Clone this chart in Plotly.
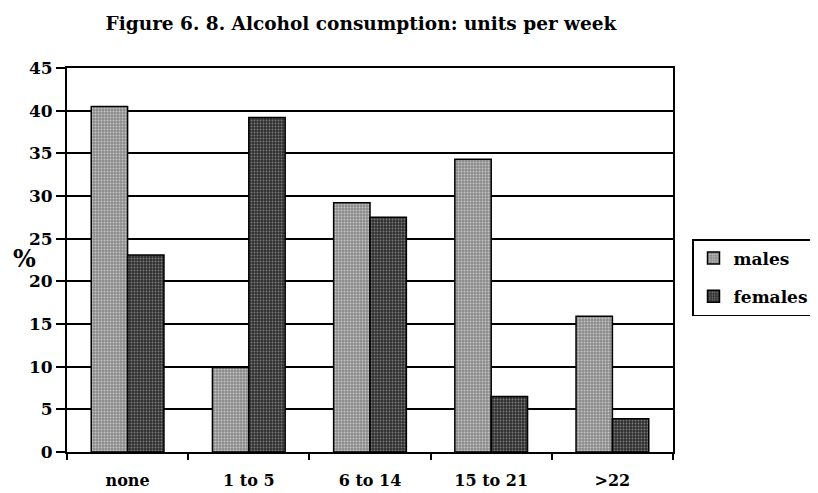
import plotly.graph_objects as go

categories = ["none", "1 to 5", "6 to 14", "15 to 21", ">22"]
males = [40.5, 9.9, 29.2, 34.3, 15.9]
females = [23.1, 39.2, 27.5, 6.5, 3.9]
y_ticks = [0, 5, 10, 15, 20, 25, 30, 35, 40, 45]

FONT = "DejaVu Serif"
OFF = 8  # page body margin
W, H = 818 - OFF, 493 - OFF
L, T = 67 - OFF, 68 - OFF
R, B = W - (673 - OFF), H - (452 - OFF)
PW, PH = W - L - R, H - T - B

fig = go.Figure()
fig.add_trace(go.Bar(
    x=categories, y=males, name="males", legendgroup="m",
    marker=dict(color="#a0a0a0", line=dict(color="black", width=1.5),
                pattern=dict(shape=".", fgcolor="#ffffff", bgcolor="#8a8a8a",
                             size=3, solidity=0.35)),
))
fig.add_trace(go.Bar(
    x=categories, y=females, name="females", legendgroup="f",
    marker=dict(color="#404040", line=dict(color="black", width=1.5),
                pattern=dict(shape=".", fgcolor="#c8c8c8", bgcolor="#303030",
                             size=3, solidity=0.3)),
))

fig.update_layout(
    width=W, height=H,
    margin=dict(l=L, r=R, t=T, b=B, autoexpand=False),
    paper_bgcolor="white", plot_bgcolor="white",
    barmode="group", bargap=0.4, bargroupgap=0,
    font=dict(family=FONT, color="black"),
    title=dict(text="Figure 6. 8. Alcohol consumption: units per week",
               x=(361 - OFF) / W, xanchor="center",
               y=1 - (24 - OFF) / H, yanchor="middle",
               font=dict(family=FONT, size=18.5, color="black", weight="bold")),
    legend=dict(x=(692 - 67) / PW, xanchor="left", y=(452 - 239) / PH,
                yanchor="top",
                bordercolor="black", borderwidth=1.5, bgcolor="white",
                font=dict(family=FONT, size=17, color="black", weight="bold"),
                itemwidth=30, tracegroupgap=13),
    showlegend=True,
)
fig.update_xaxes(
    automargin=False,
    showline=True, linecolor="black", linewidth=2, mirror=True,
    ticks="outside", tickson="boundaries", ticklen=6, tickwidth=2, tickcolor="black",
    tickfont=dict(family=FONT, size=16, color="black", weight="bold"),
    ticklabelstandoff=13,
    showgrid=False,
)
fig.update_yaxes(
    automargin=False,
    range=[0, 45], tickvals=y_ticks,
    showline=True, linecolor="black", linewidth=2, mirror=True,
    ticks="outside", ticklen=9, tickwidth=2, tickcolor="black",
    tickfont=dict(family=FONT, size=17, color="black", weight="bold"),
    showgrid=True, gridcolor="black", gridwidth=2,
    zeroline=False,
)
fig.add_annotation(text="%", x=(25 - 67) / PW, xref="paper", xanchor="center",
                   y=22.7, yref="y", yanchor="middle",
                   showarrow=False,
                   font=dict(family=FONT, size=24, color="black", weight="bold"))

fig.write_html("out.html")
